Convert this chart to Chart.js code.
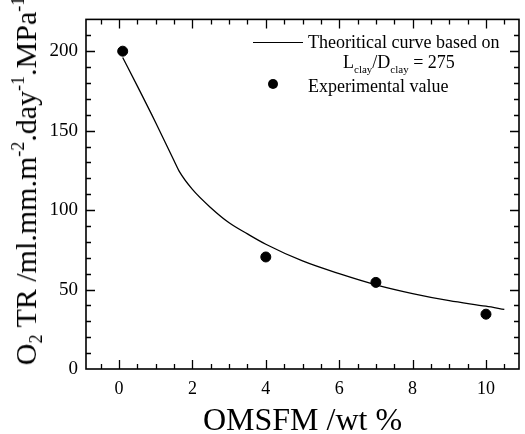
<!DOCTYPE html>
<html>
<head>
<meta charset="utf-8">
<script src="https://cdn.jsdelivr.net/npm/chart.js@4"></script>
<style>
  body { margin: 0; background: #fff; }
  #wrap { position: relative; width: 525px; height: 434px; overflow: hidden; font-family: "Liberation Serif", "DejaVu Serif", serif; color: #000; }
  canvas { position: absolute; left: 0; top: 0; }
  .txt { position: absolute; white-space: nowrap; line-height: 1; }
  .ytitle { left: 26px; top: 181px; font-size: 30px; transform: translate(-50%, -50%) rotate(-90deg); }
  sub, sup { font-size: 60%; vertical-align: baseline; position: relative; }
  sub { top: 0.35em; }
  sup { top: -0.65em; }
  .leg { font-size: 18px; }
  .leg sub { font-size: 11px; top: 0.45em; }
  #legline { position: absolute; left: 253px; top: 42px; width: 50px; border-top: 1.2px solid #000; }
  #legdot { position: absolute; left: 268px; top: 79px; width: 10px; height: 10px; border-radius: 50%; background: #000; }
</style>
</head>
<body>
<div id="wrap">
  <canvas id="chart" width="525" height="434"></canvas>
  <div class="txt ytitle">O<sub>2</sub> TR /ml.mm.m<sup>-2</sup>.day<sup>-1</sup>.MPa<sup>-1</sup></div>
  <div id="legline"></div>
  <div class="txt leg" style="left:308px; top:33px;">Theoritical curve based on</div>
  <div class="txt leg" style="left:343px; top:53px;">L<sub>clay</sub>/D<sub>clay</sub> = 275</div>
  <div id="legdot"></div>
  <div class="txt leg" style="left:308px; top:77px;">Experimental value</div>
</div>
<script>
document.addEventListener('DOMContentLoaded', function () {
    // Theoretical curve
    const curveX = [0.1, 0.5, 1, 1.5, 1.65, 2, 2.5, 3, 3.5, 4, 5, 6, 7, 8, 9, 10, 10.5];
    const curveY = [196, 178, 155, 131, 124, 113, 101.5, 92, 85, 78.5, 68, 60, 53, 47.5, 43, 39.5, 37.5];

    // Experimental values
    const expX = [0.1, 4, 7, 10];
    const expY = [200, 70.5, 54.5, 34.5];

    // Tick labels
    const xTicks = [0, 2, 4, 6, 8, 10];
    const yTicks = [0, 50, 100, 150, 200];

    const serif = '"Liberation Serif", "DejaVu Serif", serif';

    // Frame with inward ticks on all four sides
    const frameTicks = {
        id: 'frameTicks',
        afterDatasetsDraw(chart) {
            const { ctx, chartArea: a, scales: { x, y } } = chart;
            ctx.save();
            ctx.strokeStyle = '#000';
            ctx.lineWidth = 1.6;
            ctx.strokeRect(a.left, a.top, a.right - a.left, a.bottom - a.top);
            ctx.lineWidth = 1.3;
            ctx.beginPath();
            for (let v = -0.5; v <= 10.5; v += 0.5) {
                const px = Math.round(x.getPixelForValue(v)) + 0.5;
                const len = xTicks.includes(v) ? 9 : 5;
                ctx.moveTo(px, a.bottom); ctx.lineTo(px, a.bottom - len);
                ctx.moveTo(px, a.top); ctx.lineTo(px, a.top + len);
            }
            for (let v = 10; v <= 210; v += 10) {
                const py = Math.round(y.getPixelForValue(v)) + 0.5;
                const len = yTicks.includes(v) ? 9 : 5;
                ctx.moveTo(a.left, py); ctx.lineTo(a.left + len, py);
                ctx.moveTo(a.right, py); ctx.lineTo(a.right - len, py);
            }
            ctx.stroke();
            ctx.restore();
        }
    };

    new Chart(document.getElementById('chart').getContext('2d'), {
        type: 'scatter',
        data: {
            datasets: [{
                type: 'line',
                label: 'Theoritical curve',
                data: curveX.map((v, i) => ({ x: v, y: curveY[i] })),
                borderColor: '#000',
                borderWidth: 1.3,
                pointRadius: 0,
                cubicInterpolationMode: 'monotone',
                fill: false
            }, {
                label: 'Experimental value',
                data: expX.map((v, i) => ({ x: v, y: expY[i] })),
                backgroundColor: '#000',
                borderColor: '#000',
                pointRadius: 5,
                pointHoverRadius: 5
            }]
        },
        options: {
            responsive: false,
            animation: false,
            layout: { padding: { top: 10, right: 4, left: 0, bottom: 0 } },
            plugins: { legend: { display: false }, tooltip: { enabled: false } },
            scales: {
                x: {
                    type: 'linear',
                    min: -0.9,
                    max: 10.9,
                    afterBuildTicks: s => { s.ticks = xTicks.map(v => ({ value: v })); },
                    afterFit: s => { s.height = 65; },
                    grid: { display: false, drawTicks: false },
                    border: { display: false },
                    ticks: { color: '#000', padding: 9, font: { family: serif, size: 18 } },
                    title: {
                        display: true,
                        text: 'OMSFM /wt %',
                        color: '#000',
                        font: { family: serif, size: 32, lineHeight: 0.8 },
                        padding: { top: 0, bottom: 0 }
                    }
                },
                y: {
                    min: 0,
                    max: 220,
                    afterBuildTicks: s => { s.ticks = yTicks.map(v => ({ value: v })); },
                    afterFit: s => { s.width = 86; },
                    grid: { display: false, drawTicks: false },
                    border: { display: false },
                    ticks: { color: '#000', padding: 8, font: { family: serif, size: 19 } }
                }
            }
        },
        plugins: [frameTicks]
    });
});
</script>
</body>
</html>
